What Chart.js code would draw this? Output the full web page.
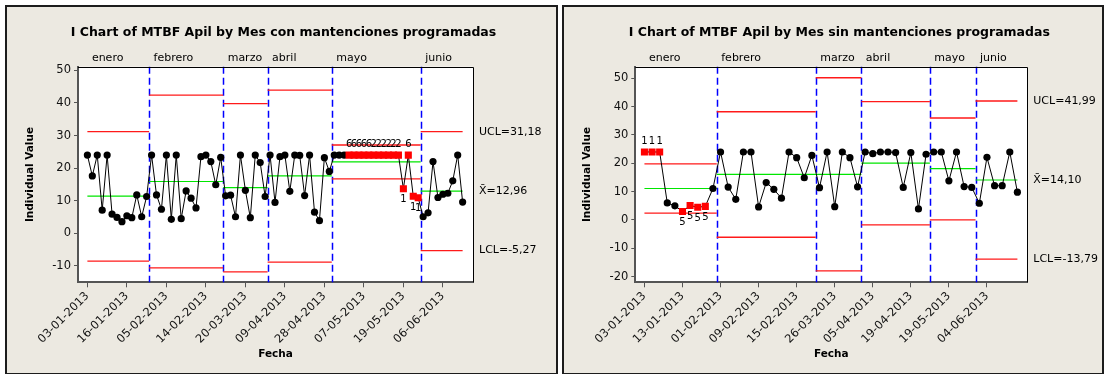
<!DOCTYPE html>
<html>
<head>
<meta charset="utf-8">
<script src="https://cdn.jsdelivr.net/npm/chart.js@4.4.1/dist/chart.umd.min.js"></script>
<style>
html, body { margin: 0; padding: 0; background: #fff; }
body { width: 1108px; height: 374px; position: relative; overflow: hidden; }
.panel { position: absolute; top: 5px; height: 370px; background: #ece9e1; border: 2px solid #1c1c1c; box-sizing: border-box; }
#p1 { left: 5px; width: 553px; }
#p2 { left: 562px; width: 542px; }
canvas { position: absolute; top: 0; }
#c1 { left: 0; }
#c2 { left: 560px; }
</style>
</head>
<body>
<div class="panel" id="p1"></div>
<div class="panel" id="p2"></div>
<canvas id="c1" width="560" height="374"></canvas>
<canvas id="c2" width="548" height="374"></canvas>
<script>
const months = ['enero', 'febrero', 'marzo', 'abril', 'mayo', 'junio'];

// con mantenciones programadas
const mtbfCon = [24, 17.6, 24, 7.1, 24, 5.9, 4.9, 3.6, 5.4, 4.8, 11.8, 5.1, 11.3,
    24, 11.8, 7.4, 24, 4.3, 24, 4.5, 13, 10.8, 7.8, 23.5, 24, 22, 14.9, 23.3,
    11.5, 11.7, 5.1, 24, 13.2, 4.8, 24, 21.7, 11.3,
    24, 9.5, 23.5, 24, 12.9, 24, 23.9, 11.6, 24, 6.5, 3.9, 23.2, 19,
    24, 24, 24, 24, 24, 24, 24, 24, 24, 24, 24, 24, 24, 24, 13.7, 24, 11.4, 10.9,
    5.1, 6.3, 22, 11, 12, 12.3, 16.1, 24, 9.6];
const monthStartCon = [0, 13, 28, 37, 50, 68];
const uclCon = [31.2, 42.4, 39.8, 43.9, 27.1, 31.18];
const clCon = [11.4, 15.9, 14.0, 17.6, 21.9, 12.96];
const lclCon = [-8.5, -10.6, -11.8, -8.8, 16.7, -5.27];
const flagIdxCon = [53, 54, 55, 56, 57, 58, 59, 60, 61, 62, 63, 64, 65, 66, 67];
const flagTxtCon = ['6', '6', '6', '6', '6', '2', '2', '2', '2', '2', '2', '1', '6', '1', '1'];
const tickIdxCon = [0, 8, 16, 24, 32, 40, 48, 56, 64, 72];
const tickLblCon = ['03-01-2013', '16-01-2013', '05-02-2013', '14-02-2013', '20-03-2013',
    '09-04-2013', '28-04-2013', '07-05-2013', '19-05-2013', '06-06-2013'];

// sin mantenciones programadas
const mtbfSin = [24, 24, 24, 6, 5, 3, 5.1, 4.5, 4.8, 11.1,
    24, 11.6, 7.3, 24, 24, 4.6, 13.2, 10.8, 7.7, 24, 22, 14.9, 22.8,
    11.4, 24, 4.7, 24, 22, 11.7,
    24, 23.4, 24, 24, 23.8, 11.5, 23.8, 3.9, 23.2,
    24, 24, 13.8, 24, 11.8, 11.5,
    5.9, 22.1, 12.1, 12.1, 24, 9.8];
const monthStartSin = [0, 10, 23, 29, 38, 44];
const uclSin = [19.8, 38.2, 50.2, 41.8, 36.0, 41.99];
const clSin = [11.1, 16.1, 16.1, 20.1, 18.1, 14.10];
const lclSin = [2.4, -6.1, -18.0, -1.7, 0.0, -13.79];
const flagIdxSin = [0, 1, 2, 5, 6, 7, 8];
const flagTxtSin = ['1', '1', '1', '5', '5', '5', '5'];
const tickIdxSin = [0, 5, 10, 15, 20, 25, 30, 35, 40, 45];
const tickLblSin = ['03-01-2013', '13-01-2013', '01-02-2013', '09-02-2013', '15-02-2013',
    '26-03-2013', '05-04-2013', '19-04-2013', '19-05-2013', '04-06-2013'];

const yTicksCon = [-10, 0, 10, 20, 30, 40, 50];
const yTicksSin = [-20, -10, 0, 10, 20, 30, 40, 50];

Chart.defaults.font.family = '"DejaVu Sans", sans-serif';
Chart.defaults.color = '#111';

// tramos horizontales por mes (limites de control)
function stepData(lim, starts, n) {
    const out = [];
    lim.forEach((v, m) => {
        const a = m === 0 ? starts[0] : starts[m] - 0.5;
        const b = m === lim.length - 1 ? n - 1 : starts[m + 1] - 0.5;
        out.push({x: a, y: v}, {x: b, y: v}, {x: b, y: null});
    });
    return out;
}

const fmt = v => v.toFixed(2).replace('.', ',');

function overlay(c) {
    return {
        id: 'overlay',
        beforeDraw(chart) {
            const a = chart.chartArea, ctx = chart.ctx;
            ctx.save();
            ctx.fillStyle = '#fff';
            ctx.fillRect(a.left, a.top, a.width, a.height);
            ctx.restore();
        },
        beforeDatasetsDraw(chart) {
            const a = chart.chartArea, ctx = chart.ctx, xs = chart.scales.x;
            ctx.save();
            ctx.strokeStyle = '#0000ff';
            ctx.lineWidth = 1.5;
            ctx.setLineDash([7, 4]);
            c.starts.slice(1).forEach(s => {
                const px = Math.round(xs.getPixelForValue(s - 0.5)) + 0.5;
                ctx.beginPath();
                ctx.moveTo(px, a.top);
                ctx.lineTo(px, a.bottom);
                ctx.stroke();
            });
            ctx.restore();
        },
        afterDraw(chart) {
            const a = chart.chartArea, ctx = chart.ctx;
            const xs = chart.scales.x, ys = chart.scales.y;
            ctx.save();
            // marco superior y derecho
            ctx.strokeStyle = '#000';
            ctx.lineWidth = 1;
            ctx.beginPath();
            ctx.moveTo(a.left, Math.round(a.top) + 0.5);
            ctx.lineTo(Math.round(a.right) + 0.5, Math.round(a.top) + 0.5);
            ctx.lineTo(Math.round(a.right) + 0.5, a.bottom);
            ctx.stroke();

            ctx.fillStyle = '#000';
            ctx.textBaseline = 'middle';
            ctx.textAlign = 'center';
            ctx.font = 'bold 12.5px "DejaVu Sans"';
            ctx.fillText(c.title, (a.left + a.right) / 2 + 8, 33);

            // meses
            ctx.textAlign = 'left';
            ctx.font = '11px "DejaVu Sans"';
            months.forEach((m, i) => {
                const px = i === 0 ? xs.getPixelForValue(c.starts[0]) : xs.getPixelForValue(c.starts[i] - 0.5);
                ctx.fillText(m, px + 4.5, a.top - 8.5);
            });

            // etiquetas de limites del ultimo mes
            const k = c.ucl.length - 1;
            ctx.fillText('UCL=' + fmt(c.ucl[k]), a.right + 6, ys.getPixelForValue(c.ucl[k]));
            ctx.fillText('X\u0304=' + fmt(c.cl[k]), a.right + 6, ys.getPixelForValue(c.cl[k]));
            ctx.fillText('LCL=' + fmt(c.lcl[k]), a.right + 6, ys.getPixelForValue(c.lcl[k]));

            // pruebas fallidas
            ctx.textAlign = 'center';
            ctx.font = '10px "DejaVu Sans"';
            c.flagIdx.forEach((idx, j) => {
                let m = 0;
                while (m + 1 < c.starts.length && c.starts[m + 1] <= idx) m++;
                const v = c.values[idx];
                const dy = v >= c.cl[m] ? -10.5 : 11;
                ctx.fillText(c.flagTxt[j], xs.getPixelForValue(idx), ys.getPixelForValue(v) + dy);
            });

            // titulos de ejes
            ctx.font = 'bold 10.5px "DejaVu Sans"';
            ctx.fillText('Fecha', (a.left + a.right) / 2, 354);
            ctx.translate(a.left - 48, (a.top + a.bottom) / 2);
            ctx.rotate(-Math.PI / 2);
            ctx.fillText('Individual Value', 0, 0);
            ctx.restore();
        }
    };
}

function makeChart(id, c) {
    const n = c.values.length;
    const flagged = c.values.map((v, i) => c.flagIdx.includes(i));
    return new Chart(document.getElementById(id), {
        type: 'line',
        data: {
            datasets: [{
                data: c.values.map((v, i) => ({x: i, y: v})),
                borderColor: '#000',
                borderWidth: 1,
                pointStyle: flagged.map(f => f ? 'rect' : 'circle'),
                pointRadius: flagged.map(f => f ? 5 : 3.6),
                pointBackgroundColor: flagged.map(f => f ? '#ff0000' : '#000'),
                pointBorderWidth: 0,
                order: 0
            }, {
                data: stepData(c.cl, c.starts, n),
                borderColor: '#00e600',
                borderWidth: 1.2,
                pointRadius: 0,
                order: 1
            }, {
                data: stepData(c.ucl, c.starts, n),
                borderColor: '#ff1a1a',
                borderWidth: 1.3,
                pointRadius: 0,
                order: 2
            }, {
                data: stepData(c.lcl, c.starts, n),
                borderColor: '#ff1a1a',
                borderWidth: 1.3,
                pointRadius: 0,
                order: 3
            }]
        },
        options: {
            responsive: false,
            animation: false,
            devicePixelRatio: 1,
            layout: {padding: c.pad},
            plugins: {legend: {display: false}, tooltip: {enabled: false}},
            scales: {
                x: {
                    type: 'linear',
                    min: c.xMin,
                    max: c.xMax,
                    afterBuildTicks: s => { s.ticks = c.tickIdx.map(v => ({value: v})); },
                    afterFit: s => { s.height = 80; },
                    grid: {drawOnChartArea: false, tickLength: 5, color: '#555'},
                    border: {display: true, color: '#555', width: 2},
                    ticks: {
                        autoSkip: false,
                        maxRotation: 45,
                        minRotation: 45,
                        padding: 2,
                        font: {size: 11.5},
                        color: '#111',
                        callback: v => c.tickLbl[c.tickIdx.indexOf(v)]
                    }
                },
                y: {
                    min: c.yMin,
                    max: c.yMax,
                    afterBuildTicks: s => { s.ticks = c.yTicks.map(v => ({value: v})); },
                    afterFit: s => { s.width = 40; },
                    grid: {drawOnChartArea: false, tickLength: 4, color: '#555'},
                    border: {display: true, color: '#555', width: 2},
                    ticks: {padding: 3, font: {size: 11.5}, color: '#111'}
                }
            }
        },
        plugins: [overlay(c)]
    });
}

makeChart('c1', {
    title: 'I Chart of MTBF Apil by Mes con mantenciones programadas',
    values: mtbfCon, starts: monthStartCon,
    ucl: uclCon, cl: clCon, lcl: lclCon,
    flagIdx: flagIdxCon, flagTxt: flagTxtCon,
    tickIdx: tickIdxCon, tickLbl: tickLblCon, yTicks: yTicksCon,
    xMin: -1.9, xMax: 78.1, yMin: -15, yMax: 51.1,
    pad: {left: 38, right: 87, top: 66.7, bottom: 11.7}
});

makeChart('c2', {
    title: 'I Chart of MTBF Apil by Mes sin mantenciones programadas',
    values: mtbfSin, starts: monthStartSin,
    ucl: uclSin, cl: clSin, lcl: lclSin,
    flagIdx: flagIdxSin, flagTxt: flagTxtSin,
    tickIdx: tickIdxSin, tickLbl: tickLblSin, yTicks: yTicksSin,
    xMin: -1.2, xMax: 50.3, yMin: -22, yMax: 54.1,
    pad: {left: 35.3, right: 80.7, top: 66.7, bottom: 11.7}
});
</script>
</body>
</html>
